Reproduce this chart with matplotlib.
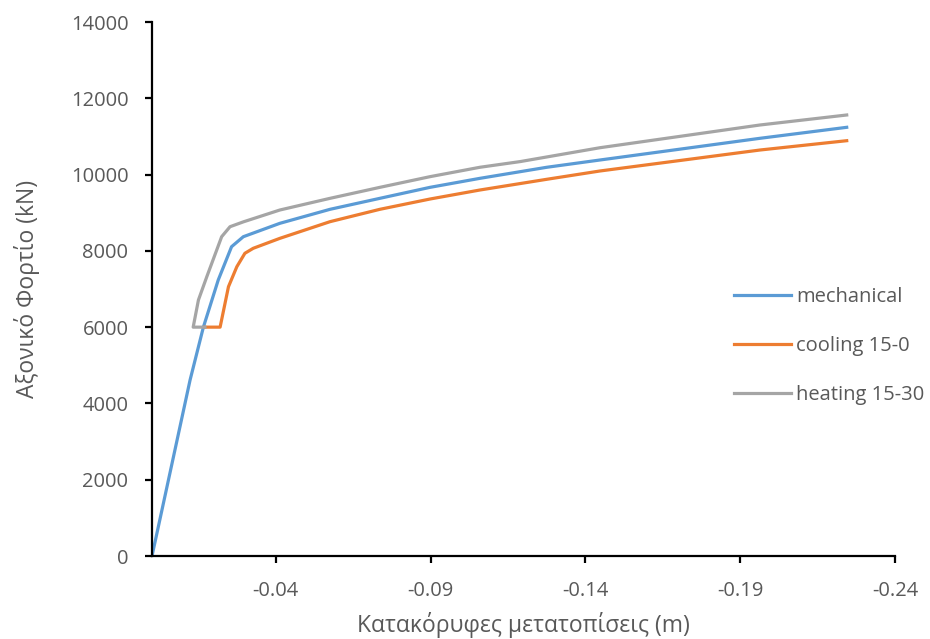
import numpy as np
import matplotlib
matplotlib.use("Agg")
import matplotlib.pyplot as plt

# ── data ───────────────────────────────────────────────────────────────
mech_x = [0.0, -0.0123, -0.0166, -0.0214, -0.0257, -0.0295, -0.0413, -0.0575,
          -0.0736, -0.0898, -0.1059, -0.1275, -0.1447, -0.1964, -0.2244]
mech_y = [0, 4614, 6000, 7237, 8109, 8371, 8722, 9089,
          9377, 9665, 9901, 10191, 10382, 10951, 11239]

cool_x = [-0.0171, -0.0220, -0.0247, -0.0274, -0.0300, -0.0327, -0.0413, -0.0575,
          -0.0736, -0.0898, -0.1059, -0.1275, -0.1447, -0.1964, -0.2244]
cool_y = [6000, 6000, 7060, 7584, 7936, 8067, 8328, 8765,
          9089, 9359, 9595, 9876, 10094, 10644, 10888]

heat_x = [-0.0171, -0.0133, -0.0150, -0.0177, -0.0225, -0.0252, -0.0295, -0.0413,
          -0.0575, -0.0736, -0.0898, -0.1059, -0.1189, -0.1447, -0.1964, -0.2244]
heat_y = [6000, 6000, 6712, 7322, 8371, 8633, 8760, 9071,
          9377, 9665, 9945, 10191, 10340, 10704, 11300, 11562]

x_ticks = [-0.04, -0.09, -0.14, -0.19, -0.24]
y_ticks = [0, 2000, 4000, 6000, 8000, 10000, 12000, 14000]

C_MECH = "#5B9BD5"
C_COOL = "#ED7D31"
C_HEAT = "#A5A5A5"
C_TXT = "#595959"

plt.rcParams.update({"font.family": ["Open Sans", "DejaVu Sans"], "font.size": 14})

fig = plt.figure(figsize=(9.30, 6.39), dpi=100)
ax = fig.add_axes([152 / 930, 1 - 556 / 639, (895 - 152) / 930, (556 - 22) / 639])

ax.plot(mech_x, mech_y, color=C_MECH, lw=2.3, label="mechanical")
ax.plot(cool_x, cool_y, color=C_COOL, lw=2.3, label="cooling 15-0")
ax.plot(heat_x, heat_y, color=C_HEAT, lw=2.3, label="heating 15-30")

ax.set_xlim(0.0, -0.24)
ax.set_ylim(0, 14000)
ax.set_xticks(x_ticks)
ax.set_xticklabels([f"{v:.2f}" for v in x_ticks])
ax.set_yticks(y_ticks)
ax.set_yticklabels([str(v) for v in y_ticks])

for s in ["top", "right"]:
    ax.spines[s].set_visible(False)
for s in ["left", "bottom"]:
    ax.spines[s].set_linewidth(1.6)
    ax.spines[s].set_color("black")
ax.tick_params(axis="both", direction="out", length=5, width=1.6,
               colors="black", labelcolor=C_TXT, labelsize=14.5)
ax.tick_params(axis="x", pad=13)
ax.tick_params(axis="y", pad=12)

ax.set_xlabel("Κατακόρυφες μετατοπίσεις (m)", fontsize=16.5, color=C_TXT, labelpad=8)
ax.set_ylabel("Αξονικό Φορτίο (kN)", fontsize=16.5, color=C_TXT, labelpad=22)

ax.legend(loc="upper left", bbox_to_anchor=(724 / 930, 1 - 277 / 639),
          bbox_transform=fig.transFigure, frameon=False, fontsize=14.5,
          handlelength=2.85, handletextpad=0.25, labelspacing=1.45,
          labelcolor=C_TXT, borderpad=0)

fig.savefig("out.png", dpi=100)
plt.close(fig)
